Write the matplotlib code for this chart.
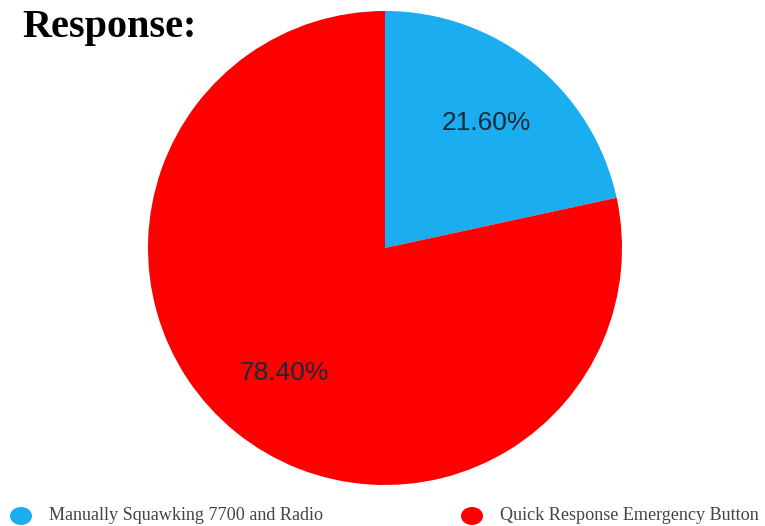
import matplotlib
matplotlib.use("Agg")
import matplotlib.pyplot as plt
from matplotlib.patches import Ellipse

categories = ["Manually Squawking 7700 and Radio", "Quick Response Emergency Button"]
values = [21.6, 78.4]
colors = ["#1AADEF", "#FF0000"]
title = "Response:"

W, H = 765, 526
fig = plt.figure(figsize=(W / 100, H / 100), dpi=100)
fig.patch.set_facecolor("white")

cx, cy, r = 385, 248, 237
ax = fig.add_axes([(cx - r) / W, (H - cy - r) / H, 2 * r / W, 2 * r / H])
wedges, texts, autotexts = ax.pie(
    values, colors=colors, startangle=90, counterclock=False,
    autopct="%.2f%%", pctdistance=0.68, radius=1,
    wedgeprops=dict(edgecolor="none", linewidth=0),
    textprops=dict(fontsize=19, color="#1b2a3a", family="Liberation Sans"),
)
ax.set_xlim(-1, 1)
ax.set_ylim(-1, 1)
ax.set_aspect("equal")
ax.axis("off")

fig.text(22 / W, 1 - 37 / H, title, fontsize=29, fontweight="bold",
         family="Liberation Serif", ha="left", va="baseline")

legend_pos = [(21, 49), (472, 500)]
for (mx, tx), lab, col in zip(legend_pos, categories, colors):
    fig.add_artist(Ellipse((mx / W, 1 - 516 / H), 22 / W, 18 / H,
                           facecolor=col, edgecolor="none",
                           transform=fig.transFigure))
    fig.text(tx / W, 1 - 515 / H, lab, fontsize=13.1, family="Liberation Serif",
             color="#444444", ha="left", va="center")

fig.savefig("out.png", dpi=100, facecolor="white")
